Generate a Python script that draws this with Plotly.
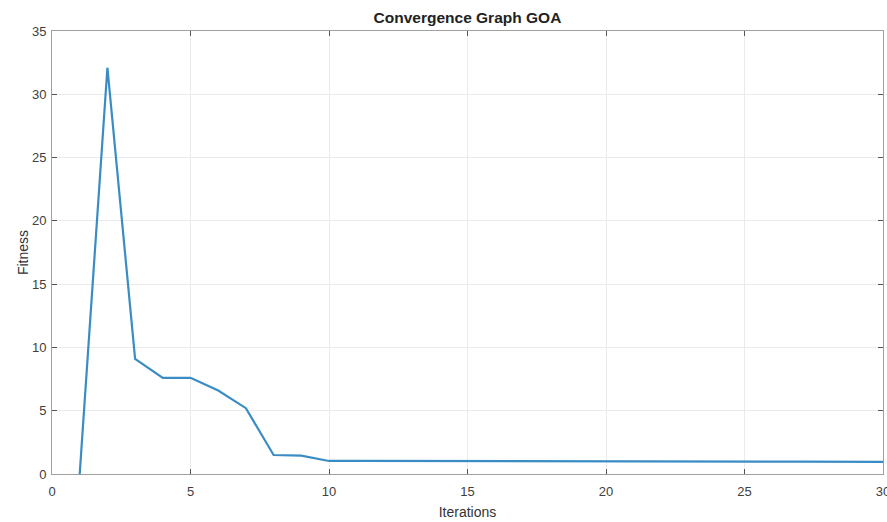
import plotly.graph_objects as go

iterations = list(range(1, 31))
fitness = [0.0, 32.1, 9.1, 7.6, 7.6, 6.6, 5.2, 1.5, 1.45, 1.03,
           1.03, 1.03, 1.03, 1.02, 1.02, 1.02, 1.01, 1.01, 1.0, 1.0,
           1.0, 1.0, 0.99, 0.99, 0.98, 0.98, 0.97, 0.97, 0.96, 0.96]
x_ticks = [0, 5, 10, 15, 20, 25, 30]
y_ticks = [0, 5, 10, 15, 20, 25, 30, 35]

FONT = "Liberation Sans, Arial"

fig = go.Figure()
fig.add_trace(go.Scatter(x=iterations, y=fitness, mode="lines",
                         line=dict(color="#3a8cc4", width=2.2),
                         showlegend=False))

axis_common = dict(showgrid=True, gridcolor="#ebebeb", gridwidth=1,
                   showline=True, linecolor="#a0a0a0", linewidth=1, mirror="ticks",
                   ticks="inside", ticklen=5, tickcolor="#555555",
                   tickfont=dict(family=FONT, size=13, color="#404040"),
                   zeroline=False, ticklabeloverflow="allow", automargin=False)

fig.update_xaxes(range=[0, 30], tickvals=x_ticks, ticklabelstandoff=5,
                 title=dict(text="Iterations", font=dict(family=FONT, size=14, color="#333333"), standoff=9),
                 **axis_common)
fig.update_yaxes(range=[0, 35], tickvals=y_ticks, ticklabelstandoff=2,
                 title=dict(text="Fitness", font=dict(family=FONT, size=14, color="#333333"), standoff=0),
                 **axis_common)

fig.update_layout(
    width=887, height=522,
    margin=dict(l=52, r=4, t=31, b=48),
    paper_bgcolor="white", plot_bgcolor="white",
    title=dict(text="<b>Convergence Graph GOA</b>", x=0.527, xanchor="center", y=0.966, yanchor="middle",
               font=dict(family=FONT, size=15.5, color="#222222")),
)

fig.write_html("out.html")
